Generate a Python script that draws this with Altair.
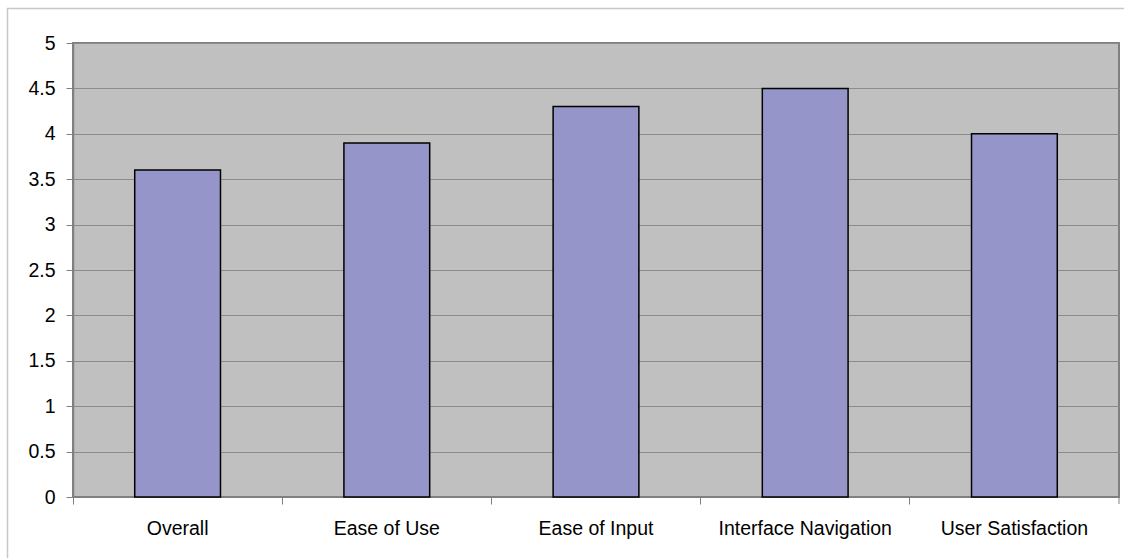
import altair as alt
import pandas as pd

categories = ["Overall", "Ease of Use", "Ease of Input", "Interface Navigation", "User Satisfaction"]
values = [3.6, 3.9, 4.3, 4.5, 4.0]
y_ticks = [0, 0.5, 1, 1.5, 2, 2.5, 3, 3.5, 4, 4.5, 5]

df = pd.DataFrame({"category": categories, "value": values})

W, H = 1046, 454

frame = alt.Chart(alt.Data(values=[{}])).mark_rect(
    fill=None, stroke="#C8C8C8", strokeWidth=1.5
).encode(
    x=alt.value(-65.5), x2=alt.value(W + 40), y=alt.value(-34.5), y2=alt.value(H + 80)
)

bars = alt.Chart(df).mark_bar(
    fill="#9595C9", stroke="#000000", strokeWidth=1.5, width={"band": 0.41}
).encode(
    x=alt.X("category:N", sort=categories, title=None,
            scale=alt.Scale(paddingInner=0, paddingOuter=0),
            axis=alt.Axis(bandPosition=0, labelAngle=0,
                          labelFontSize=19.5, labelColor="#000000", labelFont="Liberation Sans",
                          labelPadding=15, tickSize=7, tickColor="#808080",
                          domainColor="#808080", grid=False, labelLimit=400)),
    y=alt.Y("value:Q", title=None,
            scale=alt.Scale(domain=[0, 5], nice=False),
            axis=alt.Axis(values=y_ticks, format="~g", labelFontSize=19.5, labelColor="#000000",
                          labelFont="Liberation Sans", labelPadding=11, tickSize=7,
                          tickColor="#808080", domainColor="#808080", domainWidth=1.5,
                          gridColor="#8C8C8C", gridWidth=1, labelFlush=False)),
)

right_tick = alt.Chart(alt.Data(values=[{}])).mark_rule(color="#808080", strokeWidth=1).encode(
    x=alt.value(W), y=alt.value(H), y2=alt.value(H + 7)
)

chart = alt.layer(frame, bars, right_tick).properties(
    width=W, height=H,
    padding={"left": 73, "top": 43, "right": 5, "bottom": 61},
    autosize=alt.AutoSizeParams(type="none"),
    background="#FFFFFF",
).configure_view(
    fill="#C0C0C0", stroke="#808080", strokeWidth=2
)

chart.save("out.html", embed_options={"renderer": "svg", "actions": False})
